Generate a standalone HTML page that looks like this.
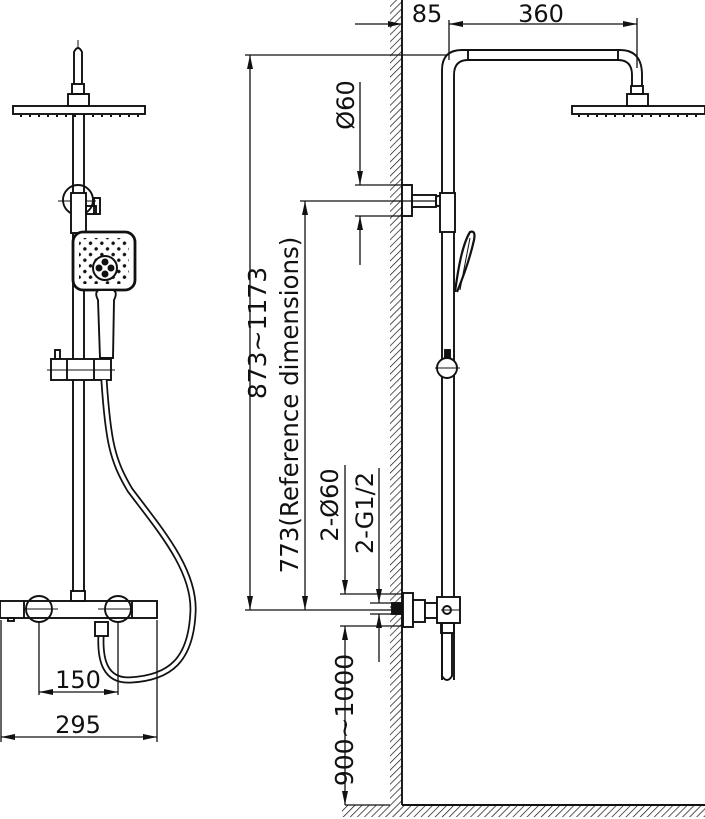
<!DOCTYPE html>
<html><head><meta charset="utf-8"><style>
html,body{margin:0;padding:0;background:#fff;}
svg{display:block;}
text{font-family:"DejaVu Sans","Liberation Sans",sans-serif;fill:#111;font-size:24px;}
</style></head><body>
<svg width="705" height="819" viewBox="0 0 705 819" xmlns="http://www.w3.org/2000/svg">
<defs>
<pattern id="hatch" width="5" height="5" patternUnits="userSpaceOnUse" patternTransform="rotate(45)">
<line x1="0" y1="0" x2="0" y2="5" stroke="#111" stroke-width="1.4"/>
</pattern>
<pattern id="dots" width="8" height="8" patternUnits="userSpaceOnUse" patternTransform="rotate(45)">
<circle cx="4" cy="4" r="1.7" fill="#111"/>
</pattern>
<marker id="ar" viewBox="0 0 14 6" refX="14" refY="3" markerWidth="14" markerHeight="6" orient="auto" markerUnits="userSpaceOnUse"><path d="M0,0 L14,3 L0,6z" fill="#111"/></marker>
</defs>
<g fill="none" stroke="#111" stroke-width="1.9">
<!-- ===== LEFT VIEW ===== -->
<path d="M74,84 L74,52 Q78,44 82,52 L82,84"/>
<rect x="72" y="84" width="12" height="10"/>
<line x1="78" y1="40" x2="78" y2="48" stroke-width="1"/>
<rect x="68" y="94" width="21" height="12"/>
<rect x="13" y="106" width="132" height="8"/>
<path d="M20,116 L140,116" stroke-dasharray="2 7" stroke-width="2"/>
<line x1="73" y1="114" x2="73" y2="592"/>
<line x1="84" y1="114" x2="84" y2="592"/>
<circle cx="78" cy="200" r="15"/>
<line x1="58" y1="201" x2="96" y2="201" stroke-width="1"/>
<rect x="71" y="193" width="15" height="40" fill="#fff"/>
<rect x="86" y="206" width="10" height="8"/>
<rect x="94" y="198" width="6" height="16"/>
<!-- hand shower head -->
<rect x="73" y="232" width="62" height="58" rx="10" stroke-width="2.8" fill="#fff"/>
<rect x="79" y="238" width="50" height="46" rx="6" fill="url(#dots)" stroke="none"/>
<circle cx="105" cy="268" r="12" stroke-width="2" fill="#fff"/>
<circle cx="105" cy="262" r="3.5" fill="#111" stroke="none"/>
<circle cx="105" cy="274" r="3.5" fill="#111" stroke="none"/>
<circle cx="99" cy="268" r="3.5" fill="#111" stroke="none"/>
<circle cx="111" cy="268" r="3.5" fill="#111" stroke="none"/>
<path d="M99,290 L113,290 Q118,292 114,300 L113,358 L100,358 L98,300 Q94,292 99,290z" fill="#fff"/>
<!-- slider -->
<rect x="55" y="350" width="5" height="9"/>
<rect x="51" y="359" width="60" height="21" fill="#fff"/>
<line x1="47" y1="370" x2="115" y2="370" stroke-width="1"/>
<line x1="67" y1="359" x2="67" y2="380"/>
<line x1="94" y1="359" x2="94" y2="380"/>
<!-- hose -->
<path d="M104,380 C108,440 112,460 130,490 C160,530 195,570 193,612 C191,660 170,678 130,680 C105,681 100,660 101,636" stroke-width="7"/>
<path d="M104,380 C108,440 112,460 130,490 C160,530 195,570 193,612 C191,660 170,678 130,680 C105,681 100,660 101,636" stroke="#fff" stroke-width="3.5"/>
<rect x="95" y="622" width="13" height="14" fill="#fff"/>
<!-- thermostat -->
<rect x="71" y="591" width="14" height="10"/>
<circle cx="39" cy="609" r="13"/>
<circle cx="118" cy="609" r="13"/>
<rect x="0" y="601" width="157" height="17"/>
<line x1="24" y1="601" x2="24" y2="618"/>
<line x1="132" y1="601" x2="132" y2="618"/>
<line x1="24" y1="609" x2="58" y2="609" stroke-width="1"/>
<line x1="98" y1="609" x2="132" y2="609" stroke-width="1"/>
<rect x="8" y="618" width="6" height="3"/>
<g stroke-width="1.3">
<line x1="39" y1="622" x2="39" y2="695"/>
<line x1="118" y1="622" x2="118" y2="695"/>
<line x1="1" y1="620" x2="1" y2="742"/>
<line x1="157" y1="620" x2="157" y2="742"/>
<line x1="78" y1="692" x2="39" y2="692" marker-end="url(#ar)"/>
<line x1="78" y1="692" x2="118" y2="692" marker-end="url(#ar)"/>
<line x1="78" y1="737" x2="1" y2="737" marker-end="url(#ar)"/>
<line x1="78" y1="737" x2="157" y2="737" marker-end="url(#ar)"/>
</g>

<!-- ===== RIGHT VIEW ===== -->
<rect x="390" y="0" width="12" height="805" fill="url(#hatch)" stroke="none"/>
<rect x="342" y="805" width="363" height="12" fill="url(#hatch)" stroke="none"/>
<line x1="402" y1="0" x2="402" y2="805"/>
<line x1="402" y1="805" x2="705" y2="805"/>
<path d="M442,680 L442,70 Q442,50 462,50 L620,50 Q642,50 642,75 L642,86"/>
<path d="M454,680 L454,75 Q454,60 468,60 L618,60 Q632,60 632,75 L632,86"/>
<line x1="468" y1="50" x2="468" y2="60"/>
<line x1="618" y1="50" x2="618" y2="60"/>
<rect x="631" y="86" width="12" height="8"/>
<rect x="627" y="94" width="21" height="12"/>
<rect x="572" y="106" width="133" height="8"/>
<path d="M578,116 L700,116" stroke-dasharray="2 7" stroke-width="2"/>
<line x1="355" y1="185" x2="412" y2="185" stroke-width="1.3"/>
<line x1="355" y1="216" x2="412" y2="216" stroke-width="1.3"/>
<rect x="402" y="185" width="10" height="31" fill="#fff"/>
<rect x="412" y="195" width="24" height="12" fill="#fff"/>
<rect x="436" y="196" width="5" height="10" rx="2"/>
<rect x="440" y="193" width="15" height="39" fill="#fff"/>
<path d="M455,292 C458,270 462,245 470,232 Q476,230 474,240 C470,258 464,275 457,292" fill="#fff" stroke-width="2.2"/>
<line x1="460" y1="290" x2="470" y2="238" stroke-width="1"/>
<rect x="445" y="350" width="5" height="10" fill="#111"/>
<circle cx="447" cy="368" r="10" fill="#fff"/>
<line x1="435" y1="368" x2="460" y2="368" stroke-width="1"/>
<rect x="403" y="593" width="10" height="34" fill="#fff"/>
<rect x="392" y="603" width="10" height="11" fill="#111"/>
<rect x="413" y="600" width="12" height="22" fill="#fff"/>
<rect x="425" y="603" width="12" height="15" fill="#fff"/>
<rect x="437" y="597" width="23" height="26" fill="#fff"/>
<circle cx="447" cy="610" r="4"/>
<line x1="441" y1="610" x2="460" y2="610" stroke-width="1"/>
<rect x="441" y="623" width="13" height="10"/>
<path d="M442,633 L442,676 Q447,684 452,676 L452,633"/>
<g stroke-width="1.3">
<line x1="355" y1="24" x2="402" y2="24" marker-end="url(#ar)"/>
<line x1="540" y1="24" x2="449" y2="24" marker-end="url(#ar)"/>
<line x1="540" y1="24" x2="637" y2="24" marker-end="url(#ar)"/>
<line x1="449" y1="20" x2="449" y2="60"/>
<line x1="637" y1="18" x2="637" y2="68"/>
<line x1="245" y1="55" x2="447" y2="55"/>
<line x1="250" y1="330" x2="250" y2="55" marker-end="url(#ar)"/>
<line x1="250" y1="330" x2="250" y2="610" marker-end="url(#ar)"/>
<line x1="300" y1="201" x2="436" y2="201"/>
<line x1="305" y1="400" x2="305" y2="201" marker-end="url(#ar)"/>
<line x1="305" y1="400" x2="305" y2="610" marker-end="url(#ar)"/>
<line x1="360" y1="82" x2="360" y2="185" marker-end="url(#ar)"/>
<line x1="360" y1="265" x2="360" y2="216" marker-end="url(#ar)"/>
<line x1="245" y1="610" x2="392" y2="610"/>
<line x1="340" y1="594" x2="403" y2="594"/>
<line x1="340" y1="626" x2="403" y2="626"/>
<line x1="345" y1="465" x2="345" y2="594" marker-end="url(#ar)"/>
<line x1="345" y1="710" x2="345" y2="626" marker-end="url(#ar)"/>
<line x1="345" y1="710" x2="345" y2="805" marker-end="url(#ar)"/>
<line x1="345" y1="805" x2="390" y2="805"/>
<line x1="379" y1="468" x2="379" y2="603" marker-end="url(#ar)"/>
<line x1="379" y1="662" x2="379" y2="614" marker-end="url(#ar)"/>
<line x1="370" y1="603" x2="392" y2="603"/>
<line x1="370" y1="614" x2="392" y2="614"/>
</g>
</g>
<text x="78" y="688" text-anchor="middle">150</text>
<text x="78" y="733" text-anchor="middle">295</text>
<text x="427" y="22" text-anchor="middle">85</text>
<text x="541" y="22" text-anchor="middle">360</text>
<text transform="translate(266,333) rotate(-90)" text-anchor="middle" style="font-size:25px">873~1173</text>
<text transform="translate(298,405) rotate(-90)" text-anchor="middle" style="font-size:24.5px">773(Reference dimensions)</text>
<text transform="translate(354,105) rotate(-90)" text-anchor="middle">Ø60</text>
<text transform="translate(338,505) rotate(-90)" text-anchor="middle">2-Ø60</text>
<text transform="translate(373,513) rotate(-90)" text-anchor="middle">2-G1/2</text>
<text transform="translate(353,720) rotate(-90)" text-anchor="middle" style="font-size:25px">900~1000</text>
</svg>
</body></html>
